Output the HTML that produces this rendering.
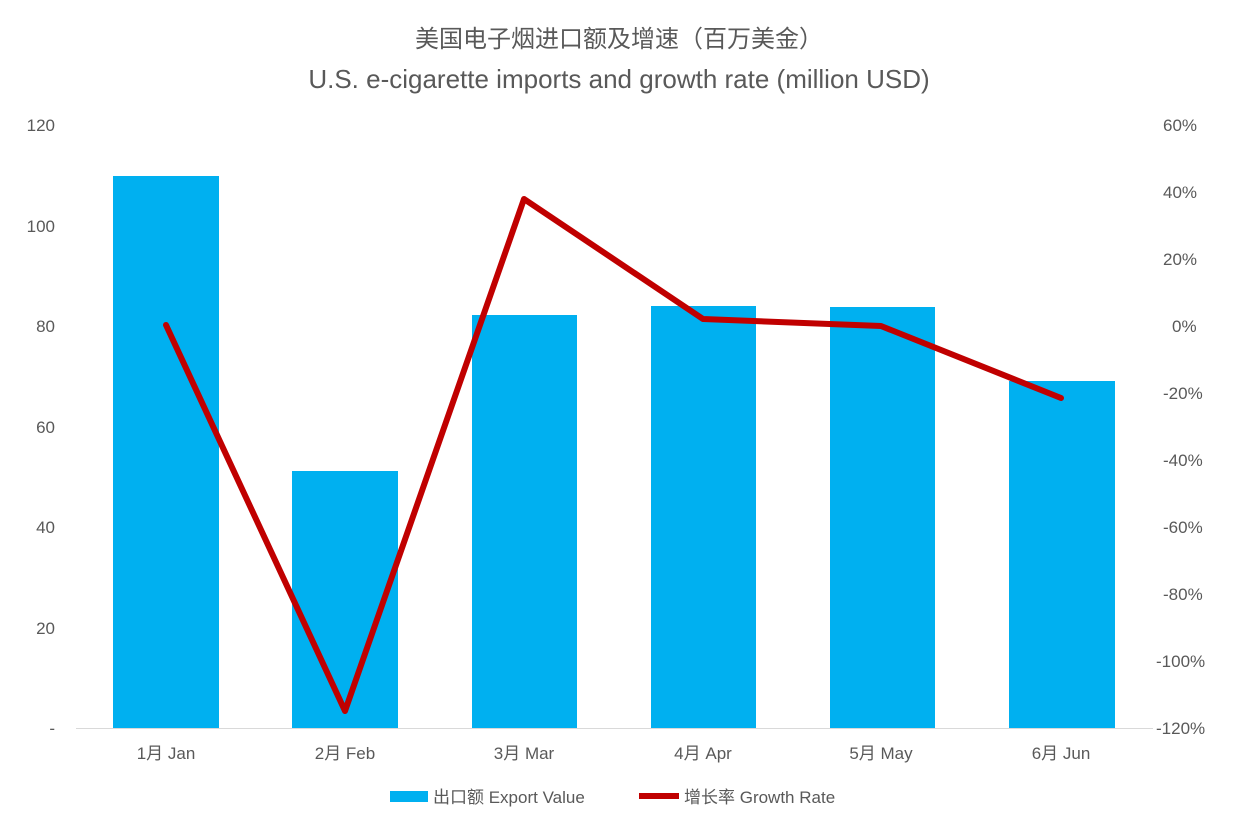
<!DOCTYPE html>
<html><head><meta charset="utf-8"><style>
body{margin:0;background:#fff;}
svg text{font-family:"Liberation Sans","Noto Sans CJK SC",sans-serif;fill:#595959;}
</style></head><body>
<svg width="1238" height="826" xmlns="http://www.w3.org/2000/svg">
<rect width="1238" height="826" fill="#fff"/>
<text x="619" y="47" font-size="24" text-anchor="middle">美国电子烟进口额及增速（百万美金）</text>
<text x="619" y="88" font-size="26" text-anchor="middle">U.S. e-cigarette imports and growth rate (million USD)</text>
<g font-size="17" text-anchor="end">
<text x="55" y="131">120</text><text x="55" y="232">100</text><text x="55" y="332">80</text>
<text x="55" y="433">60</text><text x="55" y="533">40</text><text x="55" y="634">20</text><text x="55" y="734">-</text>
</g>
<g font-size="17" text-anchor="start">
<text x="1163" y="131">60%</text><text x="1163" y="198">40%</text><text x="1163" y="265">20%</text>
<text x="1172" y="332">0%</text><text x="1163" y="399">-20%</text><text x="1163" y="466">-40%</text>
<text x="1163" y="533">-60%</text><text x="1163" y="600">-80%</text><text x="1156" y="667">-100%</text><text x="1156" y="734">-120%</text>
</g>
<g fill="#00B0F0">
<rect x="113" y="176" width="106" height="552"/>
<rect x="292" y="471" width="106" height="257"/>
<rect x="472" y="315" width="105" height="413"/>
<rect x="651" y="306" width="105" height="422"/>
<rect x="830" y="307" width="105" height="421"/>
<rect x="1009" y="381" width="106" height="347"/>
</g>
<line x1="76" y1="728.5" x2="1153" y2="728.5" stroke="#d9d9d9" stroke-width="1"/>
<polyline points="166,325 345,711 524,199 703,319 881,326 1061,398" fill="none" stroke="#C00000" stroke-width="6" stroke-linejoin="round" stroke-linecap="round"/>
<g font-size="17" text-anchor="middle">
<text x="166" y="759">1月 Jan</text><text x="345" y="759">2月 Feb</text><text x="524" y="759">3月 Mar</text>
<text x="703" y="759">4月 Apr</text><text x="881" y="759">5月 May</text><text x="1061" y="759">6月 Jun</text>
</g>
<rect x="390" y="791" width="38" height="11" fill="#00B0F0"/>
<text x="433" y="803" font-size="17">出口额 Export Value</text>
<line x1="639" y1="796" x2="679" y2="796" stroke="#C00000" stroke-width="6"/>
<text x="684" y="803" font-size="17">增长率 Growth Rate</text>
</svg>
</body></html>
